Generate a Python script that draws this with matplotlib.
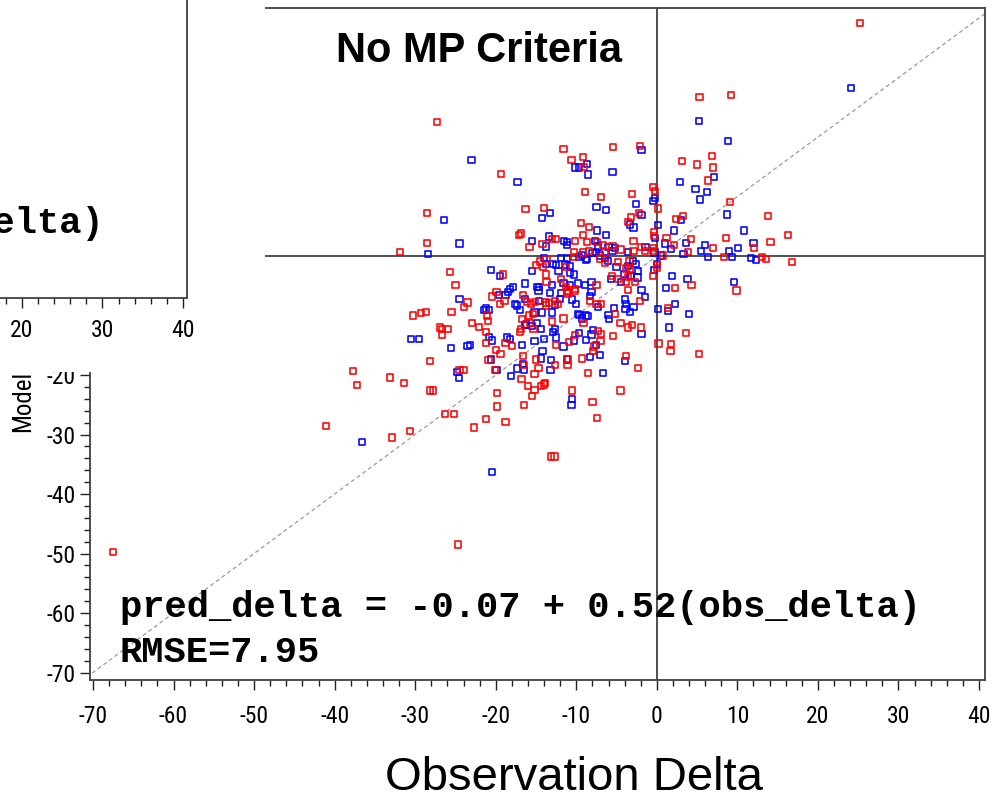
import matplotlib

matplotlib.use("Agg")
import matplotlib.pyplot as plt
import numpy as np
from matplotlib import font_manager
from matplotlib.ticker import MultipleLocator

# observed delta, model (predicted) delta
RED = [
    (-27.3, 22.5), (-11.6, 18.0), (-5.4, 18.4), (-2.1, 18.5), (-10.6, 16.2), (-9.2, 16.6),
    (-9.1, 15.0), (-19.3, 13.8), (3.1, 16.0), (6.8, 16.8), (5.0, 15.4), (7.0, 14.9),
    (6.4, 12.7), (13.8, 6.7), (16.3, 3.5), (14.1, 2.4), (12.1, 1.4), (9.1, 9.1),
    (-8.9, 10.8), (-6.9, 9.9), (-3.1, 10.5), (-0.5, 11.6), (-0.2, 10.9), (0.1, 8.0),
    (-16.3, 7.9), (-14.0, 8.1), (-28.5, 7.3), (-2.2, 7.3), (-3.2, 6.6), (-3.6, 5.7),
    (-9.4, 5.6), (-8.4, 4.9), (-9.2, 3.6), (2.4, 6.2), (3.2, 6.7), (-0.4, 4.0),
    (-0.4, 3.4), (1.2, 3.0), (4.2, 2.9), (2.1, 1.9), (3.9, 0.7), (7.0, 1.3),
    (8.6, 3.0), (8.3, -0.1), (13.1, -0.1), (13.6, -0.5), (16.8, -1.0), (-31.9, 0.7),
    (-28.5, 2.2), (-17.1, 3.5), (-16.9, 3.8), (-15.8, 1.5), (-14.2, 2.0), (-13.0, 2.9),
    (-12.5, 2.9), (-10.2, 2.5), (-8.7, 2.3), (-7.4, 2.4), (-6.7, 1.9), (-5.5, 1.7),
    (-4.5, 1.1), (-1.9, 1.5), (-1.5, 0.9), (-0.5, 1.3), (-10.3, 0.7), (-9.2, 0.6),
    (-8.4, 0.9), (0.8, 0.1), (-10.3, -0.2), (-7.1, -0.4), (-6.4, -1.1), (-4.8, -1.0),
    (-14.5, -0.9), (-15.0, -1.5), (-14.1, -1.9), (-13.8, -3.1), (-13.7, -4.3), (-11.9, -3.8),
    (-11.3, -5.2), (-11.0, -5.8), (-11.1, -6.3), (-7.5, -4.8), (-10.2, -5.5), (-8.3, -7.5),
    (-7.5, -8.1), (-6.9, -8.0), (-5.6, -3.3), (-4.8, -3.9), (-3.8, -4.3), (-3.6, -3.5),
    (-2.7, -4.3), (-3.3, -2.2), (-3.8, -2.1), (-3.6, -5.7), (-2.1, -7.5), (-5.2, -9.7),
    (-4.5, -11.2), (-3.6, -12.0), (-3.1, -11.6), (-2.0, -12.0), (-9.1, -11.3), (-10.2, -13.3),
    (-10.9, -14.5), (-12.5, -15.0), (-13.0, -11.0), (-11.6, -10.5), (-7.3, -12.6), (-6.9, -13.1),
    (-7.0, -14.3), (-7.8, -15.2), (-7.9, -15.9), (-5.4, -13.4), (-9.3, -17.2), (-11.0, -17.4),
    (-12.6, -18.3), (-15.0, -17.4), (-14.7, -18.8), (-15.2, -19.8), (-16.6, -16.8), (-16.8, -20.6),
    (-16.0, -21.9), (-15.2, -22.5), (-15.5, -23.5), (-14.4, -21.8), (-14.0, -21.6), (-16.5, -25.0),
    (-19.8, -23.0), (-19.8, -25.3), (-21.2, -27.4), (-18.8, -27.9), (-22.7, -28.8), (-30.6, -29.4),
    (-32.9, -30.5), (-26.3, -26.6), (-25.2, -26.5), (-28.2, -22.6), (-27.8, -22.6), (-31.4, -21.4),
    (-33.1, -20.4), (-28.2, -17.6), (-24.5, -19.2), (-24.0, -19.2), (-26.9, -12.0), (-26.7, -12.2),
    (-26.7, -13.3), (-25.9, -12.3), (-30.3, -10.0), (-29.3, -9.6), (-28.7, -9.4), (-25.5, -9.4),
    (-23.9, -8.5), (-23.5, -7.8), (-25.0, -4.9), (-25.7, -2.7), (-22.9, -11.3), (-22.1, -11.9),
    (-21.2, -12.8), (-21.2, -14.6), (-20.0, -15.8), (-19.4, -16.4), (-20.9, -17.5), (-20.1, -19.1),
    (-21.1, -10.0), (-21.0, -10.9), (-20.5, -6.8), (-19.9, -6.0), (-19.5, -8.1), (-18.9, -7.5),
    (-19.1, -3.1), (-16.6, -6.6), (-16.1, -7.7), (-15.6, -8.0), (-15.1, -7.7), (-15.4, -9.7),
    (-15.9, -10.0), (-16.7, -10.6), (-17.0, -12.7), (-16.9, -12.3), (-15.7, -11.3), (-15.3, -12.3),
    (-13.8, -8.3), (-13.8, -7.8), (-13.4, -7.9), (-12.6, -7.6), (-12.3, -8.0), (-11.2, -6.1),
    (-10.2, -5.9), (9.9, -5.8), (4.3, -4.8), (2.3, -5.4), (1.4, -8.7), (3.6, -12.9),
    (1.8, -14.8), (0.2, -14.7), (1.7, -16.0), (5.2, -16.4), (-0.5, -3.3), (0.0, -1.5),
    (0.0, -2.0), (-67.5, -49.7), (25.2, 39.2), (5.3, 26.7), (9.2, 27.1), (-37.7, -19.3),
    (-37.2, -21.7), (-41.1, -28.5), (-24.7, -48.5), (-13.1, -33.7), (-12.7, -33.7), (-2.9, 2.5),
    (-0.5, 0.8), (-6.4, 0.6), (-2.9, 0.9), (-3.4, -0.9), (-13.7, -0.5), (-11.3, -1.8),
    (-18.8, -14.6), (-18.0, -15.1), (-16.5, -18.3), (-11.1, -18.3), (-13.9, -21.4), (-8.5, -19.7),
    (-3.8, -16.8), (-2.3, -18.8), (-4.5, -22.6), (-10.5, -22.6), (-8.0, -24.5), (-7.4, -27.2),
]

BLUE = [
    (5.2, 22.7), (8.8, 19.3), (-1.9, 17.8), (-23.0, 16.1), (-10.2, 14.9), (-9.7, 14.9),
    (-8.7, 15.5), (-8.5, 13.7), (-5.5, 14.1), (-17.3, 12.4), (7.1, 13.3), (2.9, 12.5),
    (12.0, 2.2), (10.8, 4.3), (8.7, 7.0), (4.8, 11.3), (6.2, 10.8), (5.4, 9.5),
    (-0.5, 9.2), (-0.2, 9.7), (-7.5, 8.3), (-6.3, 7.8), (-13.3, 7.3), (-14.3, 6.4),
    (-26.4, 6.1), (-2.6, 8.7), (-1.9, 6.9), (-3.3, 5.3), (-2.9, 4.8), (-7.4, 4.3),
    (-6.3, 3.5), (3.0, 6.1), (2.1, 4.3), (-0.2, 3.0), (0.1, 5.2), (1.0, 2.1),
    (3.6, 2.2), (1.8, 1.2), (3.3, 0.4), (5.5, 0.8), (6.0, 1.8), (6.4, -0.1),
    (9.0, 0.8), (9.3, -0.1), (10.1, 1.4), (11.7, -0.3), (12.3, -0.6), (-28.4, 0.4),
    (-24.5, 2.1), (-15.5, 2.5), (-13.8, 1.6), (-13.4, 3.3), (-11.5, 2.5), (-11.2, 2.4),
    (-11.2, 1.8), (-7.3, 1.6), (-6.0, 1.5), (-5.2, 1.3), (-3.6, 0.7), (-8.0, 0.5),
    (-7.6, 0.7), (0.5, 0.1), (-9.7, -0.1), (-9.3, 0.2), (-7.1, 0.1), (-6.4, -0.3),
    (-6.1, -0.8), (-11.9, -0.3), (-11.4, -1.4), (-10.8, -1.7), (-8.8, -0.7), (-14.0, -0.3),
    (-13.8, -1.3), (-12.9, -1.3), (-12.5, -1.5), (-15.5, -2.5), (-16.4, -4.6), (-14.9, -5.2),
    (-14.6, -5.2), (-14.7, -5.8), (-13.0, -4.9), (-13.3, -6.2), (-11.9, -6.2), (-11.6, -4.5),
    (-10.8, -2.9), (-10.3, -3.1), (-10.8, -4.8), (-9.8, -4.6), (-8.9, -4.9), (-8.1, -4.4),
    (-10.5, -7.3), (-10.0, -8.0), (-8.1, -6.1), (-8.3, -6.7), (-5.7, -3.9), (-4.4, -4.4),
    (-3.2, -3.4), (-5.0, -1.8), (-4.1, -3.0), (-3.6, -1.7), (-3.0, -0.8), (-2.4, -3.6),
    (-1.9, -5.7), (-1.5, -6.9), (-4.0, -7.3), (-3.8, -8.1), (-2.9, -8.5), (-3.3, -9.4),
    (-3.9, -8.9), (-5.3, -8.7), (-6.0, -9.9), (-5.9, -10.6), (-1.9, -13.1), (-8.8, -10.0),
    (-8.5, -10.1), (-9.3, -10.5), (-9.7, -12.9), (-10.3, -14.2), (-11.6, -15.2), (-12.5, -13.7),
    (-12.9, -12.7), (-12.6, -12.2), (-9.8, -9.8), (-7.9, -12.4), (-8.1, -13.2), (-7.6, -15.0),
    (-7.1, -16.6), (-8.8, -14.1), (-8.3, -17.0), (-11.2, -17.4), (-13.1, -17.5), (-13.2, -19.1),
    (-14.4, -17.2), (-14.2, -15.9), (-14.0, -13.9), (-15.2, -14.3), (-16.7, -15.0), (-16.6, -18.2),
    (-16.5, -19.2), (-17.4, -18.9), (-18.1, -20.1), (-24.6, -20.5), (-24.8, -19.5), (-25.6, -15.5),
    (-23.5, -15.1), (-30.5, -14.0), (-29.5, -14.0), (-24.5, -7.2), (-20.8, -13.6), (-20.5, -14.2),
    (-20.6, -17.4), (-19.9, -19.1), (-21.5, -9.0), (-21.2, -8.8), (-20.8, -9.1), (-18.8, -6.5),
    (-18.5, -6.0), (-18.2, -5.6), (-17.9, -5.2), (-19.6, -6.6), (-19.5, -3.4), (-20.6, -2.3),
    (-17.6, -8.0), (-17.4, -8.3), (-17.0, -9.1), (-16.4, -7.2), (-14.6, -7.5), (-14.3, -9.5),
    (-15.2, -9.5), (-16.2, -11.5), (-16.4, -11.6), (-15.5, -11.8), (-14.9, -11.3), (-14.4, -12.3),
    (-13.0, -9.5), (-12.6, -8.2), (-12.0, -7.2), (-7.3, -8.6), (-9.6, -9.9), (9.6, -4.4),
    (3.8, -3.9), (1.9, -3.3), (1.1, -5.4), (2.3, -8.0), (1.4, -9.2), (0.1, -8.9),
    (4.0, -9.8), (1.5, -12.0), (-0.4, -2.4), (0.0, -1.3), (24.1, 28.2), (-36.6, -31.3),
    (-20.5, -36.3), (-7.7, 2.6), (-1.4, 1.5), (-8.7, -0.5), (-5.5, 0.8), (-2.6, -1.3),
    (-2.3, -2.5), (-0.3, 0.6), (-11.2, -0.4), (-12.2, -2.5), (-18.2, -14.0), (-18.6, -13.7),
    (-23.2, -15.0), (-6.7, -19.6), (-4.0, -17.7), (-10.5, -24.0), (-10.6, -25.1),
]

IDENTITY = [-75, 45]
EQUATION = "pred_delta = -0.07 + 0.52(obs_delta)"
RMSE_TEXT = "RMSE=7.95"

W, H = 1000, 794

plt.rcParams["axes.unicode_minus"] = False

installed = {f.name for f in font_manager.fontManager.ttflist}
NARROW, TICK_SIZE = "Liberation Sans", 15.5
for name in ("Liberation Sans Narrow", "Roboto Condensed", "Open Sans Condensed"):
    if name in installed:
        NARROW, TICK_SIZE = name, 17
        break


def frame(left, top, right, bottom):
    # pixel box (from top-left) -> figure fraction rect
    return [left / W, 1 - bottom / H, (right - left) / W, (bottom - top) / H]


def style_ticks(axis, pad):
    axis.xaxis.set_major_locator(MultipleLocator(10))
    axis.xaxis.set_minor_locator(MultipleLocator(2))
    axis.tick_params(which="both", direction="out", color="#202020", width=1.0)
    axis.tick_params(which="major", length=7)
    axis.tick_params(which="minor", length=4)
    axis.tick_params(axis="x", pad=pad)
    for label in axis.get_xticklabels() + axis.get_yticklabels():
        label.set_fontfamily(NARROW)
        label.set_fontsize(TICK_SIZE)
    for spine in axis.spines.values():
        spine.set_color("#404040")
        spine.set_linewidth(1.3)


fig = plt.figure(figsize=(W / 100, H / 100), dpi=100, facecolor="white")

ax = fig.add_axes(frame(90, 8, 985, 680))
ax.set_xlim(-70.37, 40.74)
ax.set_ylim(-71.26, 41.7)
ax.yaxis.set_major_locator(MultipleLocator(10))
ax.yaxis.set_minor_locator(MultipleLocator(2))
style_ticks(ax, pad=11)
ax.tick_params(axis="y", pad=3)

ax.axvline(0, color="#505050", linewidth=1.4, zorder=2)
ax.axhline(0, color="#505050", linewidth=1.4, zorder=2)
ax.plot(IDENTITY, IDENTITY, color="#9a9a9a", linewidth=0.9,
        linestyle=(0, (3.2, 2.4)), zorder=2)

red = np.array(RED).T
blue = np.array(BLUE).T
ax.scatter(blue[0], blue[1], marker="s", s=20, facecolors="none",
           edgecolors="#0000FF", linewidths=1.15, zorder=3)
ax.scatter(red[0], red[1], marker="s", s=20, facecolors="none",
           edgecolors="#FF0000", linewidths=1.15, zorder=3)

ax.text(0.4346, 0.9196, "No MP Criteria", transform=ax.transAxes, ha="center",
        va="baseline", fontsize=30, fontweight="bold", family="Liberation Sans")
ax.text(0.0335, 0.0938, EQUATION, transform=ax.transAxes, ha="left", va="baseline",
        fontsize=26.7, fontweight="bold", family="Liberation Mono", zorder=4)
ax.text(0.0335, 0.0268, RMSE_TEXT, transform=ax.transAxes, ha="left", va="baseline",
        fontsize=26.7, fontweight="bold", family="Liberation Mono", zorder=4)

fig.text(0.574, 1 - 790 / H, "Observation Delta", ha="center", va="baseline",
         fontsize=34, family="Liberation Sans")
fig.text(23 / W, 1 - 432 / H, "Model", rotation=90, ha="center", va="bottom",
         fontsize=18, family=NARROW)

# neighbouring panel that overlaps the top-left corner
cover = fig.add_axes(frame(0, 0, 265, 372), zorder=5)
cover.set_facecolor("white")
cover.set_xticks([])
cover.set_yticks([])
for spine in cover.spines.values():
    spine.set_visible(False)

other = fig.add_axes(frame(-707.7, -374.3, 187.3, 297.7), zorder=6)
other.set_facecolor("white")
other.set_xlim(-70.51, 40.53)
other.set_ylim(-71.26, 41.7)
other.set_yticks([])
style_ticks(other, pad=8)
other.text(0.907, 0.0963, "(obs_delta)", transform=other.transAxes, ha="right",
           va="baseline", fontsize=26.7, fontweight="bold", family="Liberation Mono")

fig.savefig("out.png", dpi=100)
